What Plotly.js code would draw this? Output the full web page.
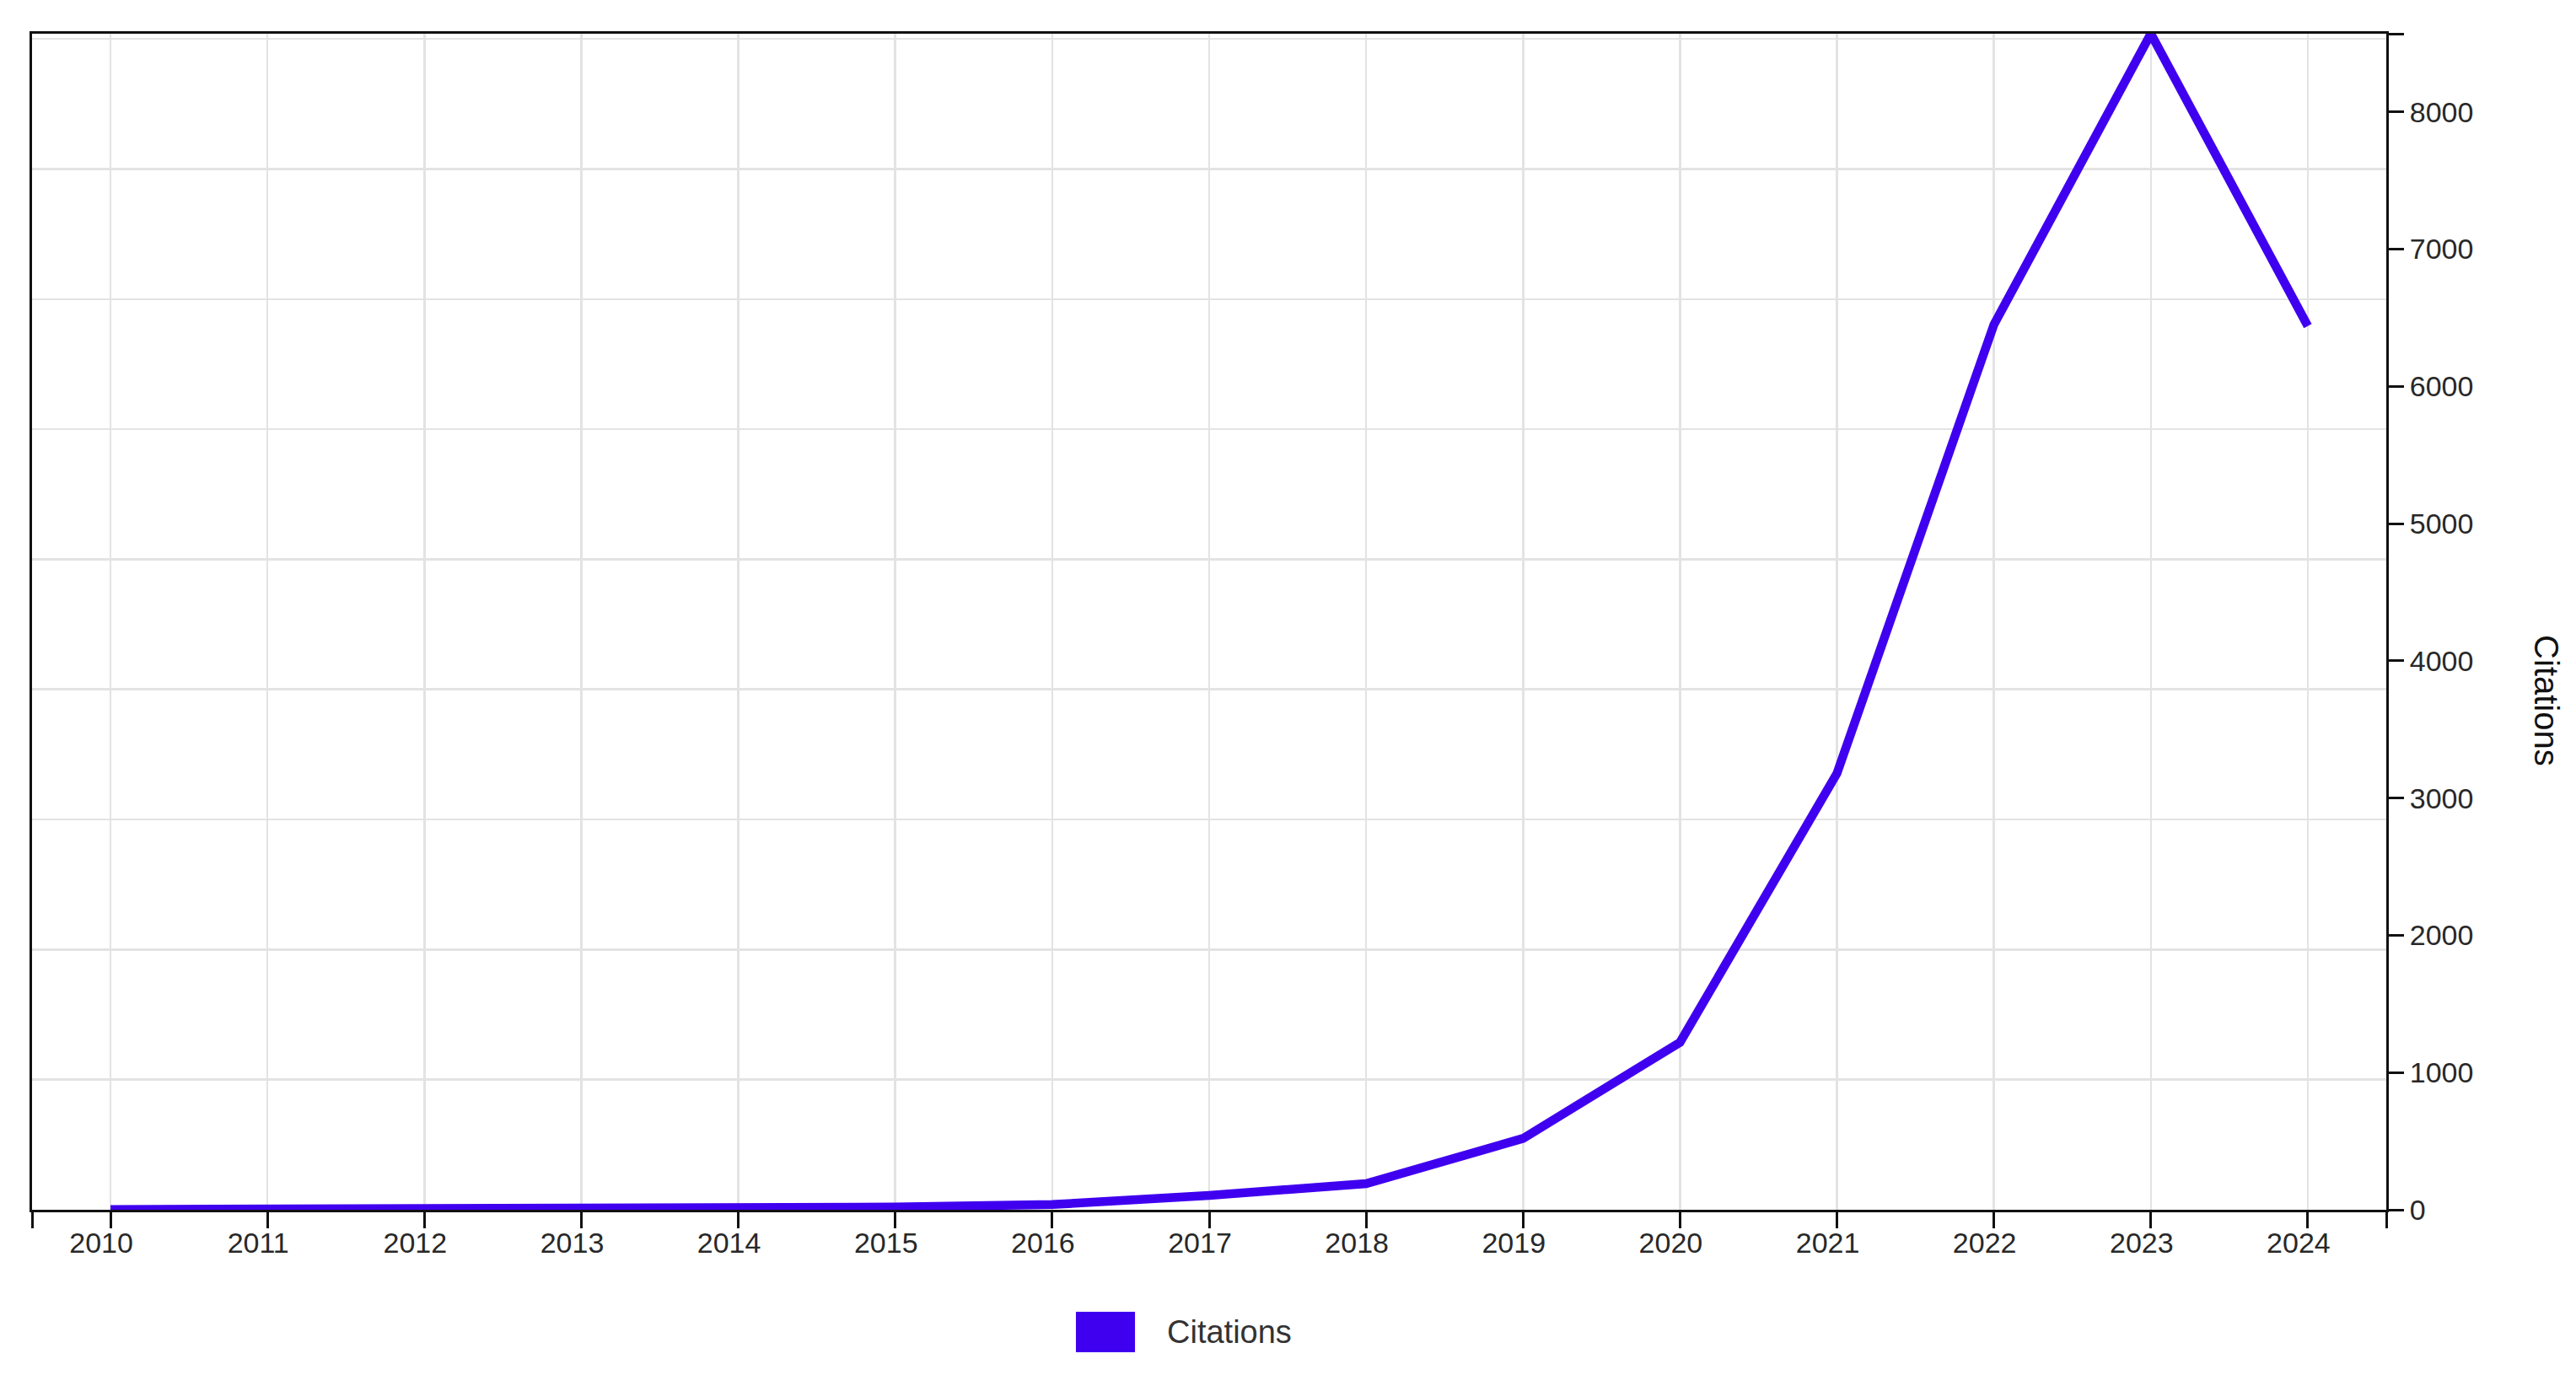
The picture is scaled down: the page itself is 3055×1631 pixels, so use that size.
<!DOCTYPE html>
<html>
<head>
<meta charset="utf-8">
<script src="https://cdn.plot.ly/plotly-3.0.1.min.js"></script>
<style>
  html, body { margin: 0; padding: 0; background: #fff; }
  #chart { width: 3055px; height: 1631px; }
</style>
</head>
<body>
<div id="chart"></div>
<script>
// citations per year
var years = [2010, 2011, 2012, 2013, 2014, 2015, 2016, 2017, 2018, 2019, 2020, 2021, 2022, 2023, 2024];
var citations = [2, 3, 5, 8, 12, 20, 38, 105, 190, 520, 1220, 3180, 6450, 8570, 6440];

var yTicks = [0, 1000, 2000, 3000, 4000, 5000, 6000, 7000, 8000];
var seriesName = 'Citations';

var lineColor = '#4000f0';
var font = 'Liberation Sans, Arial, sans-serif';

var yMax = Math.max.apply(null, citations);
var xMin = years[0] - 0.5;
var xMax = years[years.length - 1] + 0.5;

// outer ticks at both ends of each domain, like a d3 axis
var xTickVals = [xMin].concat(years, [xMax]);
var xTickText = [''].concat(years.map(String), ['']);
var yTickVals = yTicks.concat([yMax]);
var yTickText = yTicks.map(String).concat(['']);

var lineTrace = {
    x: years,
    y: citations,
    type: 'scatter',
    mode: 'lines',
    name: seriesName,
    showlegend: false,
    line: { color: lineColor, width: 10.5 },
    hoverinfo: 'x+y'
};

// empty trace so the grid axis gets drawn
var gridTrace = {
    x: [],
    y: [],
    type: 'scatter',
    mode: 'lines',
    yaxis: 'y2',
    showlegend: false,
    hoverinfo: 'skip'
};

var layout = {
    width: 3055,
    height: 1631,
    paper_bgcolor: '#fff',
    plot_bgcolor: '#fff',
    showlegend: false,
    margin: { l: 38, r: 225, t: 40, b: 196 },
    font: { family: font, color: '#222' },
    xaxis: {
        range: [xMin, xMax],
        tickmode: 'array',
        tickvals: xTickVals,
        ticktext: xTickText,
        ticks: 'outside',
        ticklen: 19,
        tickwidth: 3,
        tickcolor: '#111',
        ticklabelstandoff: -12,
        ticklabelshift: -11,
        showline: true,
        linecolor: '#111',
        linewidth: 3,
        mirror: true,
        showgrid: true,
        gridcolor: '#e3e3e3',
        gridwidth: 2.5,
        zeroline: false,
        tickfont: { size: 34, color: '#282828', family: font }
    },
    yaxis: {
        side: 'right',
        range: [0, yMax],
        tickmode: 'array',
        tickvals: yTickVals,
        ticktext: yTickText,
        ticks: 'outside',
        ticklen: 18,
        tickwidth: 3,
        tickcolor: '#111',
        showline: true,
        linecolor: '#111',
        linewidth: 3,
        mirror: true,
        showgrid: false,
        zeroline: false,
        tickfont: { size: 34, color: '#282828', family: font }
    },
    yaxis2: {
        overlaying: 'y',
        side: 'left',
        range: [0, 9.04],
        tick0: 0,
        dtick: 1,
        showgrid: true,
        gridcolor: '#e3e3e3',
        gridwidth: 2.5,
        showticklabels: false,
        ticks: '',
        showline: false,
        zeroline: false
    },
    shapes: [
        // legend swatch
        {
            type: 'rect',
            xref: 'paper', yref: 'paper',
            x0: 0.4434, x1: 0.4685,
            y0: -0.0867, y1: -0.1211,
            fillcolor: lineColor,
            line: { width: 0 }
        }
    ],
    annotations: [
        {
            text: seriesName,
            xref: 'paper', yref: 'paper',
            x: 0.4814, y: -0.1039,
            xanchor: 'left', yanchor: 'middle',
            showarrow: false,
            font: { size: 38, color: '#333', family: font }
        },
        {
            text: 'Citations',
            xref: 'paper', yref: 'paper',
            x: 1.068, y: 0.433,
            xanchor: 'center', yanchor: 'middle',
            textangle: 90,
            showarrow: false,
            font: { size: 40, color: '#111', family: font }
        }
    ]
};

var options = { displayModeBar: false, staticPlot: true };

Plotly.newPlot('chart', [gridTrace, lineTrace], layout, options);
</script>
</body>
</html>
